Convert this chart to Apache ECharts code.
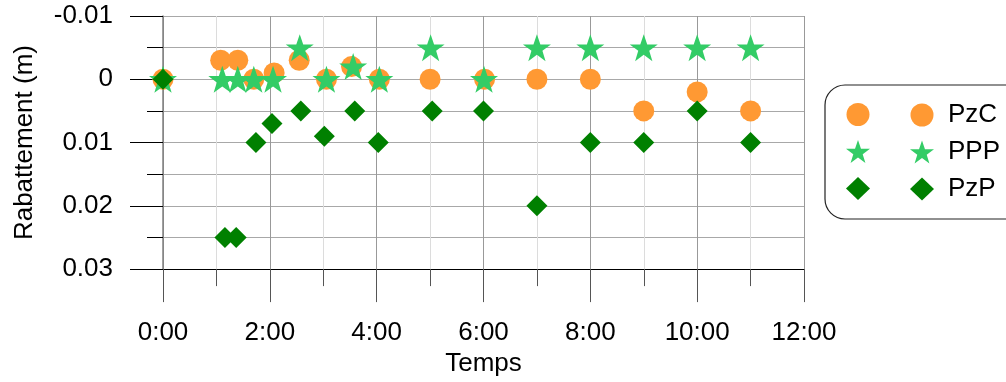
<!DOCTYPE html>
<html>
<head>
<meta charset="utf-8">
<script src="https://cdn.jsdelivr.net/npm/echarts@6/dist/echarts.min.js"></script>
<style>
html,body{margin:0;padding:0;background:#fff;}
#chart{width:1006px;height:382px;}
</style>
</head>
<body>
<div id="chart"></div>
<script>
// Data (time in hours, drawdown in m)
const seriesNames = ['PzC', 'PPP', 'PzP'];
const pzcTime = [0, 1.08, 1.40, 1.70, 2.08, 2.55, 3.06, 3.53, 4.05, 5.0, 6.02, 7.0, 8.0, 9.0, 10.0, 11.0];
const pzcVal  = [0, -0.003, -0.003, 0, -0.001, -0.003, 0, -0.002, 0, 0, 0, 0, 0, 0.005, 0.002, 0.005];
const pppTime = [0, 1.11, 1.40, 1.70, 2.06, 2.56, 3.06, 3.56, 4.05, 5.01, 6.01, 7.0, 8.0, 9.0, 10.0, 11.0];
const pppVal  = [0, 0, 0, 0, 0, -0.005, 0, -0.002, 0, -0.005, 0, -0.005, -0.005, -0.005, -0.005, -0.005];
const pzpTime = [0, 1.16, 1.37, 1.74, 2.04, 2.58, 3.02, 3.59, 4.03, 5.04, 6.0, 7.0, 8.0, 9.0, 10.0, 11.0];
const pzpVal  = [0, 0.025, 0.025, 0.01, 0.007, 0.005, 0.009, 0.005, 0.01, 0.005, 0.005, 0.02, 0.01, 0.01, 0.005, 0.01];
const xTickLabels = ['0:00', '2:00', '4:00', '6:00', '8:00', '10:00', '12:00'];

const FONT = "'Liberation Sans', Arial, sans-serif";
const STAR = 'path://M50,0 L61.8,34.5 L97.6,34.5 L68.7,55.9 L79.4,90.5 L50,69.1 L20.6,90.5 L31.3,55.9 L2.4,34.5 L38.2,34.5 Z';
const colors = ['#ff9933', '#33cc66', '#008000'];

function pairs(t, v) { return t.map((x, i) => [x, v[i]]); }

const chart = echarts.init(document.getElementById('chart'), null, {renderer: 'canvas'});

const legendData = [
  {name: 'PzC', icon: 'circle'},
  {name: 'PPP', icon: STAR},
  {name: 'PzP', icon: 'diamond'}
];

chart.setOption({
  animation: false,
  backgroundColor: '#fff',
  textStyle: {fontFamily: FONT},
  grid: {left: 163, top: 16, width: 641, height: 256, containLabel: false},
  xAxis: {
    type: 'value',
    min: 0, max: 12, interval: 2,
    name: 'Temps',
    nameLocation: 'middle',
    nameGap: 79,
    nameTextStyle: {fontSize: 26, color: '#000', fontFamily: FONT},
    axisLine: {show: true, onZero: false, lineStyle: {color: '#000', width: 1}},
    axisTick: {show: true, length: 33, lineStyle: {color: '#555', width: 1}},
    minorTick: {show: true, splitNumber: 2, length: 17, lineStyle: {color: '#555', width: 1}},
    splitLine: {show: true, lineStyle: {color: '#999', width: 1}},
    minorSplitLine: {show: true, lineStyle: {color: '#dcdcdc', width: 1}},
    axisLabel: {
      fontSize: 26, color: '#000', fontFamily: FONT, margin: 51,
      formatter: function (v) { return xTickLabels[Math.round(v / 2)]; }
    }
  },
  yAxis: {
    type: 'value',
    inverse: true,
    min: -0.01, max: 0.03, interval: 0.01,
    name: 'Rabattement (m)',
    nameLocation: 'middle',
    nameGap: 125,
    nameTextStyle: {fontSize: 26, color: '#000', fontFamily: FONT},
    axisLine: {show: true, onZero: false, lineStyle: {color: '#808080', width: 1.5}},
    axisTick: {show: true, length: 33, lineStyle: {color: '#000', width: 1}},
    minorTick: {show: true, splitNumber: 2, length: 16, lineStyle: {color: '#000', width: 1}},
    splitLine: {show: true, lineStyle: {color: '#a8a8a8', width: 1}},
    minorSplitLine: {show: true, lineStyle: {color: '#a8a8a8', width: 1}},
    axisLabel: {fontSize: 26, color: '#000', fontFamily: FONT, margin: 50}
  },
  legend: [
    {
      data: legendData,
      orient: 'vertical',
      left: 841, top: 98,
      itemWidth: 24, itemHeight: 23,
      itemGap: 14,
      formatter: function () { return ''; },
      textStyle: {fontSize: 1},
      selectedMode: false
    },
    {
      data: legendData,
      orient: 'vertical',
      left: 905, top: 97,
      itemWidth: 24, itemHeight: 23,
      itemGap: 11,
      textStyle: {fontSize: 26, color: '#000', fontFamily: FONT, lineHeight: 26, padding: [0, 0, 0, 9]},
      selectedMode: false
    }
  ],
  graphic: [
    {
      type: 'rect',
      shape: {x: 825, y: 85, width: 200, height: 134, r: 20},
      style: {fill: 'none', stroke: '#222', lineWidth: 1.2},
      silent: true,
      z: 10
    }
  ],
  series: [
    {
      name: 'PzC', type: 'scatter', symbol: 'circle', symbolSize: 21,
      itemStyle: {color: colors[0], opacity: 1},
      data: pairs(pzcTime, pzcVal), z: 2
    },
    {
      name: 'PPP', type: 'scatter', symbol: STAR, symbolSize: [28, 27],
      symbolKeepAspect: false,
      itemStyle: {color: colors[1], opacity: 1},
      data: pairs(pppTime, pppVal), z: 3
    },
    {
      name: 'PzP', type: 'scatter', symbol: 'diamond', symbolSize: 21,
      itemStyle: {color: colors[2], opacity: 1},
      data: pairs(pzpTime, pzpVal), z: 4
    }
  ]
});
</script>
</body>
</html>
